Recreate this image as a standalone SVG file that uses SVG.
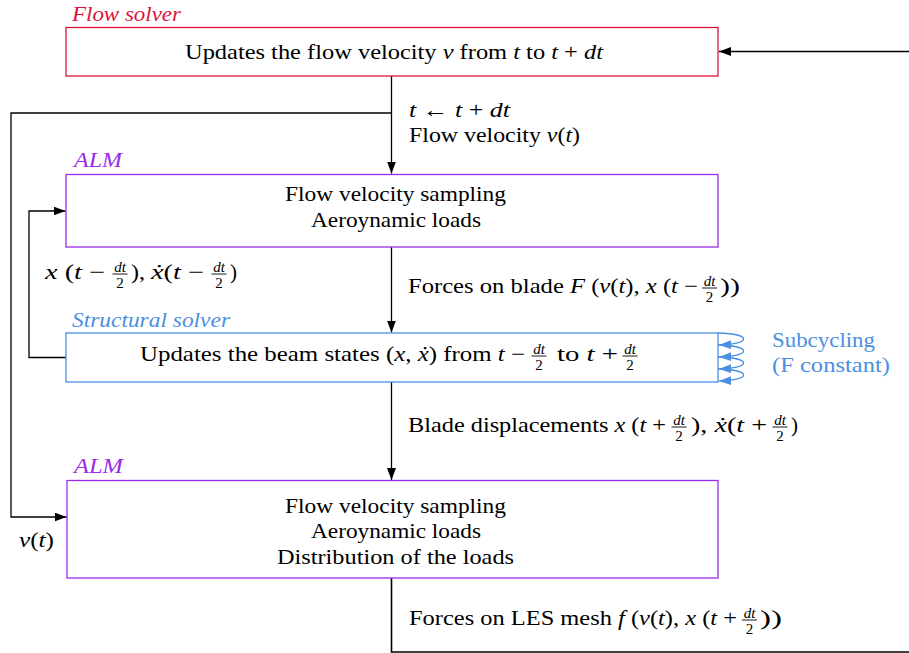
<svg xmlns="http://www.w3.org/2000/svg" width="909" height="653" viewBox="0 0 909 653">
<defs>
<style>
text{font-family:"Liberation Serif","DejaVu Serif",serif;font-size:21px;fill:#000}
.i{font-style:italic}
.lbl{font-style:italic;font-size:20px}
.fr{font-size:15px;text-anchor:middle}
.box{fill:#fff;stroke-width:1.3}
.con{fill:none;stroke:#000;stroke-width:1.3}
.sub{fill:none;stroke:#4a90e2;stroke-width:1.3}
.bar{stroke:#000;stroke-width:0.9}
</style>
<marker id="ah" markerWidth="13" markerHeight="10" refX="12" refY="4.5" orient="auto" markerUnits="userSpaceOnUse">
<path d="M0,0 L12,4.5 L0,9 Z" fill="#000"/>
</marker>
<marker id="ahb" markerWidth="14" markerHeight="10" refX="12" refY="4.5" orient="auto" markerUnits="userSpaceOnUse">
<path d="M0,0 L12,4.5 L0,9 Z" fill="#4a90e2"/>
</marker>
</defs>

<g id="connectors">
<path class="con" d="M909,51.5 H719" marker-end="url(#ah)"/>
<path class="con" d="M391.5,76 V173.5" marker-end="url(#ah)"/>
<path class="con" d="M391.5,113 H11 V517 H66.5" marker-end="url(#ah)"/>
<path class="con" d="M391.5,247 V332.5" marker-end="url(#ah)"/>
<path class="con" d="M66,357.5 H29 V211 H65.5" marker-end="url(#ah)"/>
<path class="con" d="M391.5,382 V480" marker-end="url(#ah)"/>
<path class="con" d="M391.5,578 V652 H909" style="stroke-width:1.6"/>
<g id="subcycling">
<path class="sub" d="M718,333 C752,334 752,344 719,345" marker-end="url(#ahb)"/>
<path class="sub" d="M718,345 C752,346 752,356 719,357" marker-end="url(#ahb)"/>
<path class="sub" d="M718,357 C752,358 752,368 719,369" marker-end="url(#ahb)"/>
<path class="sub" d="M718,369 C752,370 752,380 719,381" marker-end="url(#ahb)"/>
</g>
</g>

<g id="flow-solver">
<rect class="box" x="66" y="27.5" width="652" height="48.5" stroke="#dc143c"/>
<text class="lbl" x="72" y="21" textLength="109" lengthAdjust="spacingAndGlyphs" style="fill:#dc143c">Flow solver</text>
<text x="185" y="59" textLength="418" lengthAdjust="spacingAndGlyphs">Updates the flow velocity <tspan class="i">v</tspan> from <tspan class="i">t</tspan> to <tspan class="i">t</tspan> + <tspan class="i">dt</tspan></text>
</g>

<g id="label-update">
<text x="409" y="117" textLength="101" lengthAdjust="spacingAndGlyphs"><tspan class="i">t</tspan>  ← <tspan class="i">t</tspan> + <tspan class="i">dt</tspan></text>
<text x="409" y="142" textLength="171" lengthAdjust="spacingAndGlyphs">Flow velocity <tspan class="i">v</tspan>(<tspan class="i">t</tspan>)</text>
</g>

<g id="alm1">
<rect class="box" x="66" y="174.5" width="652" height="72.5" stroke="#9a2bea"/>
<text class="lbl" x="74" y="167" textLength="48" lengthAdjust="spacingAndGlyphs" style="fill:#9a2bea">ALM</text>
<text x="285" y="201" textLength="221" lengthAdjust="spacingAndGlyphs">Flow velocity sampling</text>
<text x="311" y="227" textLength="170" lengthAdjust="spacingAndGlyphs">Aeroynamic loads</text>
</g>

<g id="label-state-prev">
<text x="45" y="279" textLength="60" lengthAdjust="spacingAndGlyphs"><tspan class="i">x</tspan> (<tspan class="i">t</tspan> −</text>
<text class="fr i" x="120" y="271.5">dt</text><line class="bar" x1="112.5" x2="127.5" y1="274" y2="274"/><text class="fr" x="120" y="288">2</text>
<text x="131" y="279" textLength="14" lengthAdjust="spacingAndGlyphs">),</text>
<text x="151" y="279" textLength="53" lengthAdjust="spacingAndGlyphs"><tspan class="i">ẋ</tspan>(<tspan class="i">t</tspan> −</text>
<text class="fr i" x="219" y="271.5">dt</text><line class="bar" x1="211.5" x2="226.5" y1="274" y2="274"/><text class="fr" x="219" y="288">2</text>
<text x="230" y="279">)</text>
</g>

<g id="label-forces-blade">
<text x="408" y="293" textLength="290" lengthAdjust="spacingAndGlyphs">Forces on blade <tspan class="i">F</tspan> (<tspan class="i">v</tspan>(<tspan class="i">t</tspan>), <tspan class="i">x</tspan> (<tspan class="i">t</tspan> −</text>
<text class="fr i" x="709.5" y="285.5">dt</text><line class="bar" x1="702" x2="717" y1="288" y2="288"/><text class="fr" x="709.5" y="302">2</text>
<text x="720" y="293" textLength="20" lengthAdjust="spacingAndGlyphs">))</text>
</g>

<g id="structural-solver">
<rect class="box" x="66" y="333" width="652" height="49" stroke="#4a90e2"/>
<text class="lbl" x="72" y="327" textLength="158" lengthAdjust="spacingAndGlyphs" style="fill:#4a90e2">Structural solver</text>
<text x="140" y="361" textLength="385" lengthAdjust="spacingAndGlyphs">Updates the beam states (<tspan class="i">x</tspan>, <tspan class="i">ẋ</tspan>) from <tspan class="i">t</tspan> −</text>
<text class="fr i" x="539" y="353.5">dt</text><line class="bar" x1="531.5" x2="546.5" y1="356" y2="356"/><text class="fr" x="539" y="370">2</text>
<text x="557" y="361" textLength="61" lengthAdjust="spacingAndGlyphs">to <tspan class="i">t</tspan> +</text>
<text class="fr i" x="630" y="353.5">dt</text><line class="bar" x1="622.5" x2="637.5" y1="356" y2="356"/><text class="fr" x="630" y="370">2</text>
</g>

<g id="label-subcycling">
<text x="772" y="347" textLength="103" lengthAdjust="spacingAndGlyphs" style="fill:#4a90e2">Subcycling</text>
<text x="772" y="372" textLength="118" lengthAdjust="spacingAndGlyphs" style="fill:#4a90e2">(F constant)</text>
</g>

<g id="label-displacements">
<text x="408" y="432" textLength="258" lengthAdjust="spacingAndGlyphs">Blade displacements <tspan class="i">x</tspan> (<tspan class="i">t</tspan> +</text>
<text class="fr i" x="679" y="424.5">dt</text><line class="bar" x1="671.5" x2="686.5" y1="427" y2="427"/><text class="fr" x="679" y="441">2</text>
<text x="691" y="432" textLength="76" lengthAdjust="spacingAndGlyphs">), <tspan class="i">ẋ</tspan>(<tspan class="i">t</tspan> +</text>
<text class="fr i" x="780" y="424.5">dt</text><line class="bar" x1="772.5" x2="787.5" y1="427" y2="427"/><text class="fr" x="780" y="441">2</text>
<text x="791" y="432">)</text>
</g>

<g id="alm2">
<rect class="box" x="67" y="480.5" width="651" height="97.5" stroke="#9a2bea"/>
<text class="lbl" x="74" y="473" textLength="49" lengthAdjust="spacingAndGlyphs" style="fill:#9a2bea">ALM</text>
<text x="285" y="513" textLength="221" lengthAdjust="spacingAndGlyphs">Flow velocity sampling</text>
<text x="311" y="538" textLength="170" lengthAdjust="spacingAndGlyphs">Aeroynamic loads</text>
<text x="277" y="564" textLength="237" lengthAdjust="spacingAndGlyphs">Distribution of the loads</text>
</g>

<g id="label-vt">
<text x="19" y="547" textLength="35" lengthAdjust="spacingAndGlyphs"><tspan class="i">v</tspan>(<tspan class="i">t</tspan>)</text>
</g>

<g id="label-forces-les">
<text x="409" y="625" textLength="328" lengthAdjust="spacingAndGlyphs">Forces on LES mesh <tspan class="i">f</tspan> (<tspan class="i">v</tspan>(<tspan class="i">t</tspan>), <tspan class="i">x</tspan> (<tspan class="i">t</tspan> +</text>
<text class="fr i" x="749.5" y="617.5">dt</text><line class="bar" x1="742" x2="757" y1="620" y2="620"/><text class="fr" x="749.5" y="634">2</text>
<text x="760" y="625" textLength="22" lengthAdjust="spacingAndGlyphs">))</text>
</g>
</svg>
